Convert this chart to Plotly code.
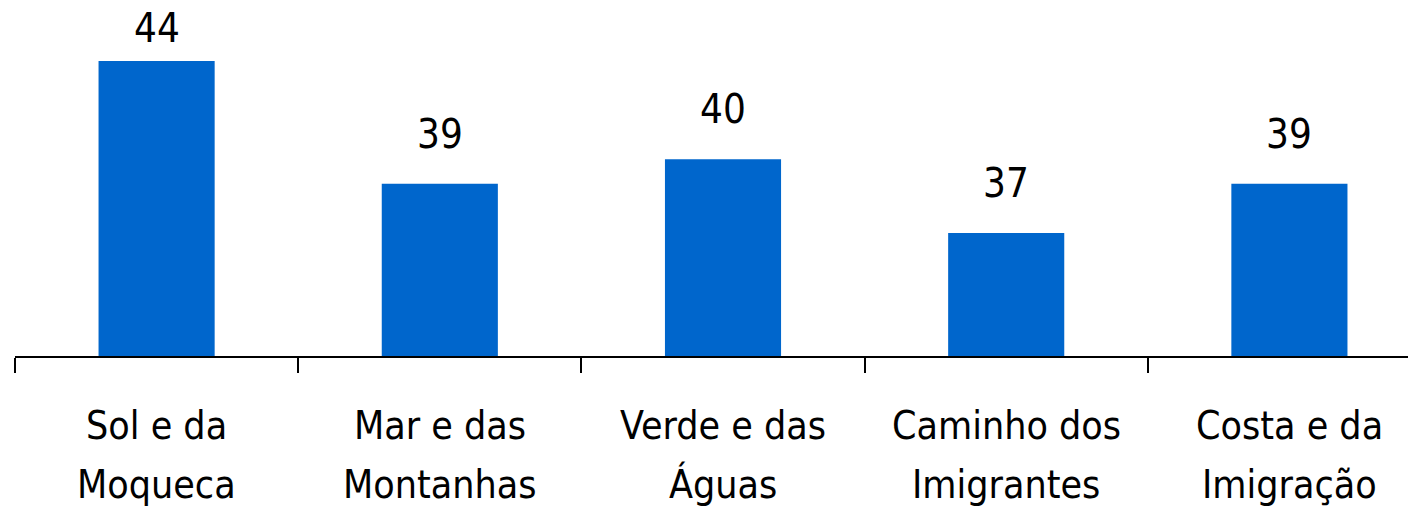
import plotly.graph_objects as go

categories = ["Sol e da Moqueca", "Mar e das Montanhas", "Verde e das Águas",
              "Caminho dos Imigrantes", "Costa e da Imigração"]
label_line1 = ["Sol e da", "Mar e das", "Verde e das", "Caminho dos", "Costa e da"]
label_line2 = ["Moqueca", "Montanhas", "Águas", "Imigrantes", "Imigração"]
values = [44, 39, 40, 37, 39]
value_labels = ["44", "39", "40", "37", "39"]

FONT = "DejaVu Sans Condensed, DejaVu Sans, sans-serif"
Y_MIN, Y_MAX = 32, 46.15
PLOT_H = 348  # px
PX_PER_UNIT = PLOT_H / (Y_MAX - Y_MIN)

fig = go.Figure(go.Bar(
    x=categories, y=values,
    marker=dict(color="#0066CC", line=dict(width=0)),
    width=0.41, cliponaxis=False,
))

annotations = []
for cat, v, t in zip(categories, values, value_labels):
    top_px = (Y_MAX - v) * PX_PER_UNIT  # distance from plot top to bar top
    shift = min(50, top_px - 20)
    annotations.append(dict(x=cat, y=v, xref="x", yref="y", text=t, showarrow=False,
                            yanchor="middle", yshift=shift,
                            font=dict(family=FONT, size=40, color="black")))
for cat, l1, l2 in zip(categories, label_line1, label_line2):
    annotations.append(dict(x=cat, y=0, xref="x", yref="paper", text=l1, showarrow=False,
                            yanchor="middle", yshift=-69,
                            font=dict(family=FONT, size=39, color="black")))
    annotations.append(dict(x=cat, y=0, xref="x", yref="paper", text=l2, showarrow=False,
                            yanchor="middle", yshift=-128,
                            font=dict(family=FONT, size=39, color="black")))

fig.update_layout(
    width=1408, height=499,
    margin=dict(l=7, r=0, t=0, b=151),
    paper_bgcolor="white", plot_bgcolor="white",
    showlegend=False,
    font=dict(family=FONT, size=39, color="black"),
    annotations=annotations,
    xaxis=dict(
        range=[-0.5, 4.447], showline=True, linecolor="black", linewidth=2,
        ticks="outside", tickson="boundaries", ticklen=15, tickwidth=2, tickcolor="black",
        showgrid=False, showticklabels=False,
    ),
    yaxis=dict(range=[Y_MIN, Y_MAX], visible=False, showgrid=False),
)

fig.write_html("out.html")
